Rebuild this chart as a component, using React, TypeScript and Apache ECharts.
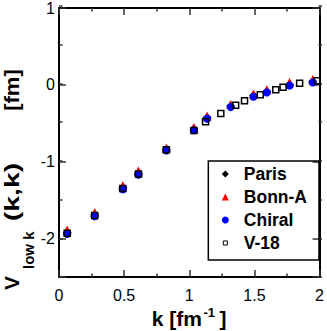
import React, { useEffect, useRef } from 'react';
import * as echarts from 'echarts';

// ---- data ----
const kMain = [0.063, 0.274, 0.49, 0.61, 0.824, 1.036, 1.137, 1.318, 1.493, 1.595, 1.77, 1.948];
const paris = [-1.92, -1.69, -1.34, -1.15, -0.84, -0.575, -0.425, -0.275, -0.14, -0.085, 0.005, 0.045];
const bonnA = [-1.89, -1.66, -1.31, -1.12, -0.82, -0.555, -0.405, -0.255, -0.12, -0.065, 0.03, 0.07];
const chiral = [-1.94, -1.71, -1.36, -1.17, -0.855, -0.59, -0.44, -0.29, -0.155, -0.1, -0.01, 0.03];
const kV18 = [0.063, 0.274, 0.49, 0.61, 0.824, 1.036, 1.125, 1.242, 1.356, 1.424, 1.545, 1.664, 1.72, 1.847, 1.98];
const v18 = [-1.93, -1.7, -1.35, -1.16, -0.845, -0.595, -0.48, -0.373, -0.266, -0.206, -0.129, -0.064, -0.031, 0.021, 0.055];
const seriesNames = ['Paris', 'Bonn-A', 'Chiral', 'V-18'];
const xRange = [0, 2];
const yRange = [-2.5, 1];

const FONT = '"Liberation Sans", Arial, Helvetica, sans-serif';

function zip(xs: number[], ys: number[]) {
  return xs.map((x, i) => [x, ys[i]]);
}

export default function App() {
  const ref = useRef<HTMLDivElement>(null);
  useEffect(() => {
    const chart = echarts.init(ref.current!, null, { renderer: 'svg' });
    const axisLineStyle = { color: '#000', width: 2 };
    const tickStyle = { color: '#333', width: 1.5 };
    const gridRect = { left: 59, top: 6, right: 5, bottom: 54 };
    const xCommon = {
      type: 'value',
      min: xRange[0],
      max: xRange[1],
      interval: 0.5,
      axisLine: { show: true, onZero: false, lineStyle: axisLineStyle },
      axisTick: { show: true, inside: true, length: 7, lineStyle: tickStyle },
      minorTick: { show: true, splitNumber: 2, length: 3.5, lineStyle: tickStyle },
      splitLine: { show: false },
      minorSplitLine: { show: false },
    };
    const yMajor = {
      type: 'value',
      min: yRange[0],
      max: yRange[1],
      minInterval: 1,
      maxInterval: 1,
      axisLine: { show: true, onZero: false, lineStyle: axisLineStyle },
      axisTick: { show: true, inside: true, length: 7, lineStyle: tickStyle },
      splitLine: { show: false },
    };
    const yMinor = {
      type: 'value',
      min: yRange[0],
      max: yRange[1],
      interval: 0.5,
      axisLine: { show: false },
      axisTick: { show: true, inside: true, length: 3.5, lineStyle: tickStyle },
      axisLabel: { show: false },
      splitLine: { show: false },
    };
    const txt = (text: string, x: number, y: number, size: number, extra: any = {}) => ({
      type: 'text',
      x,
      y,
      ...extra,
      style: {
        text,
        fill: '#000',
        font: `bold ${size}px ${FONT}`,
        align: extra.align || 'left',
        textAlign: extra.align || 'left',
        verticalAlign: 'middle',
        textVerticalAlign: 'middle',
      },
    });
    chart.setOption({
      animation: false,
      backgroundColor: '#fff',
      textStyle: { fontFamily: FONT },
      grid: [{ ...gridRect }, { ...gridRect }],
      xAxis: [
        {
          ...xCommon,
          gridIndex: 0,
          position: 'bottom',
          axisLabel: { color: '#000', fontSize: 16, margin: 10, fontFamily: FONT },
        },
        { ...xCommon, gridIndex: 0, position: 'top', axisLabel: { show: false } },
        { type: 'value', gridIndex: 1, min: xRange[0], max: xRange[1], show: false },
      ],
      yAxis: [
        {
          ...yMajor,
          gridIndex: 0,
          position: 'left',
          axisLabel: {
            color: '#000',
            fontSize: 16,
            margin: 4,
            fontFamily: FONT,
            formatter: (v: number) => (Number.isInteger(v) ? String(v) : ''),
          },
        },
        { ...yMajor, gridIndex: 0, position: 'right', axisLabel: { show: false } },
        { ...yMinor, gridIndex: 1, position: 'left' },
        { ...yMinor, gridIndex: 1, position: 'right' },
      ],
      legend: {
        orient: 'vertical',
        right: 8,
        top: 161,
        itemWidth: 7,
        itemHeight: 7,
        itemGap: 5,
        padding: [4, 12, 8, 13],
        borderColor: '#000',
        borderWidth: 1.5,
        selectedMode: false,
        textStyle: { fontSize: 17.5, fontWeight: 'bold', color: '#000', fontFamily: FONT, padding: [0, 0, 0, 10] },
        data: [
          { name: seriesNames[0], icon: 'diamond', itemStyle: { color: '#000' } },
          { name: seriesNames[1], icon: 'triangle', itemStyle: { color: '#ff0000' } },
          { name: seriesNames[2], icon: 'circle', itemStyle: { color: '#0000ff' } },
          {
            name: seriesNames[3],
            icon: 'path://M0,0M12,12M2.5,2.5H9.5V9.5H2.5Z',
            itemStyle: { color: 'rgba(0,0,0,0)', borderColor: '#000', borderWidth: 1 },
          },
        ],
      },
      series: [
        {
          name: seriesNames[0],
          type: 'scatter',
          xAxisIndex: 0,
          yAxisIndex: 0,
          symbol: 'diamond',
          symbolSize: 9,
          itemStyle: { color: '#000', opacity: 1 },
          data: zip(kMain, paris),
        },
        {
          name: seriesNames[1],
          type: 'scatter',
          xAxisIndex: 0,
          yAxisIndex: 0,
          symbol: 'triangle',
          symbolSize: 9,
          itemStyle: { color: '#ff0000', opacity: 1 },
          data: zip(kMain, bonnA),
        },
        {
          name: seriesNames[2],
          type: 'scatter',
          xAxisIndex: 0,
          yAxisIndex: 0,
          symbol: 'circle',
          symbolSize: 8,
          itemStyle: { color: '#0000ff', opacity: 1 },
          data: zip(kMain, chiral),
        },
        {
          name: seriesNames[3],
          type: 'scatter',
          xAxisIndex: 0,
          yAxisIndex: 0,
          symbol: 'rect',
          symbolSize: 6,
          itemStyle: { color: 'rgba(0,0,0,0)', borderColor: '#000', borderWidth: 1.5, opacity: 1 },
          data: zip(kV18, v18),
        },
      ],
      graphic: [
        // x-axis title: k [fm^-1]
        txt('k [fm', 151.7, 318.3, 21),
        txt('-1', 203.5, 312.2, 13),
        txt(']', 219.5, 318.3, 21),
        // y-axis title: V_{low k} (k,k) [fm]
        {
          type: 'group',
          x: 1,
          y: 290,
          rotation: Math.PI / 2,
          children: [
            txt('V', 0, 10.8, 21),
            txt('low k', 21, 27.5, 15),
            txt('(k,k)', 98, 10.8, 21, { align: 'center', scaleX: 1.35 }),
            txt('[fm]', 200, 10.8, 21, { align: 'center', scaleX: 1.05 }),
          ],
        },
      ],
    });
    return () => chart.dispose();
  }, []);
  return (
    <div
      ref={ref}
      style={{ position: 'fixed', left: 0, top: 0, width: 327, height: 331, background: '#fff' }}
    />
  );
}
